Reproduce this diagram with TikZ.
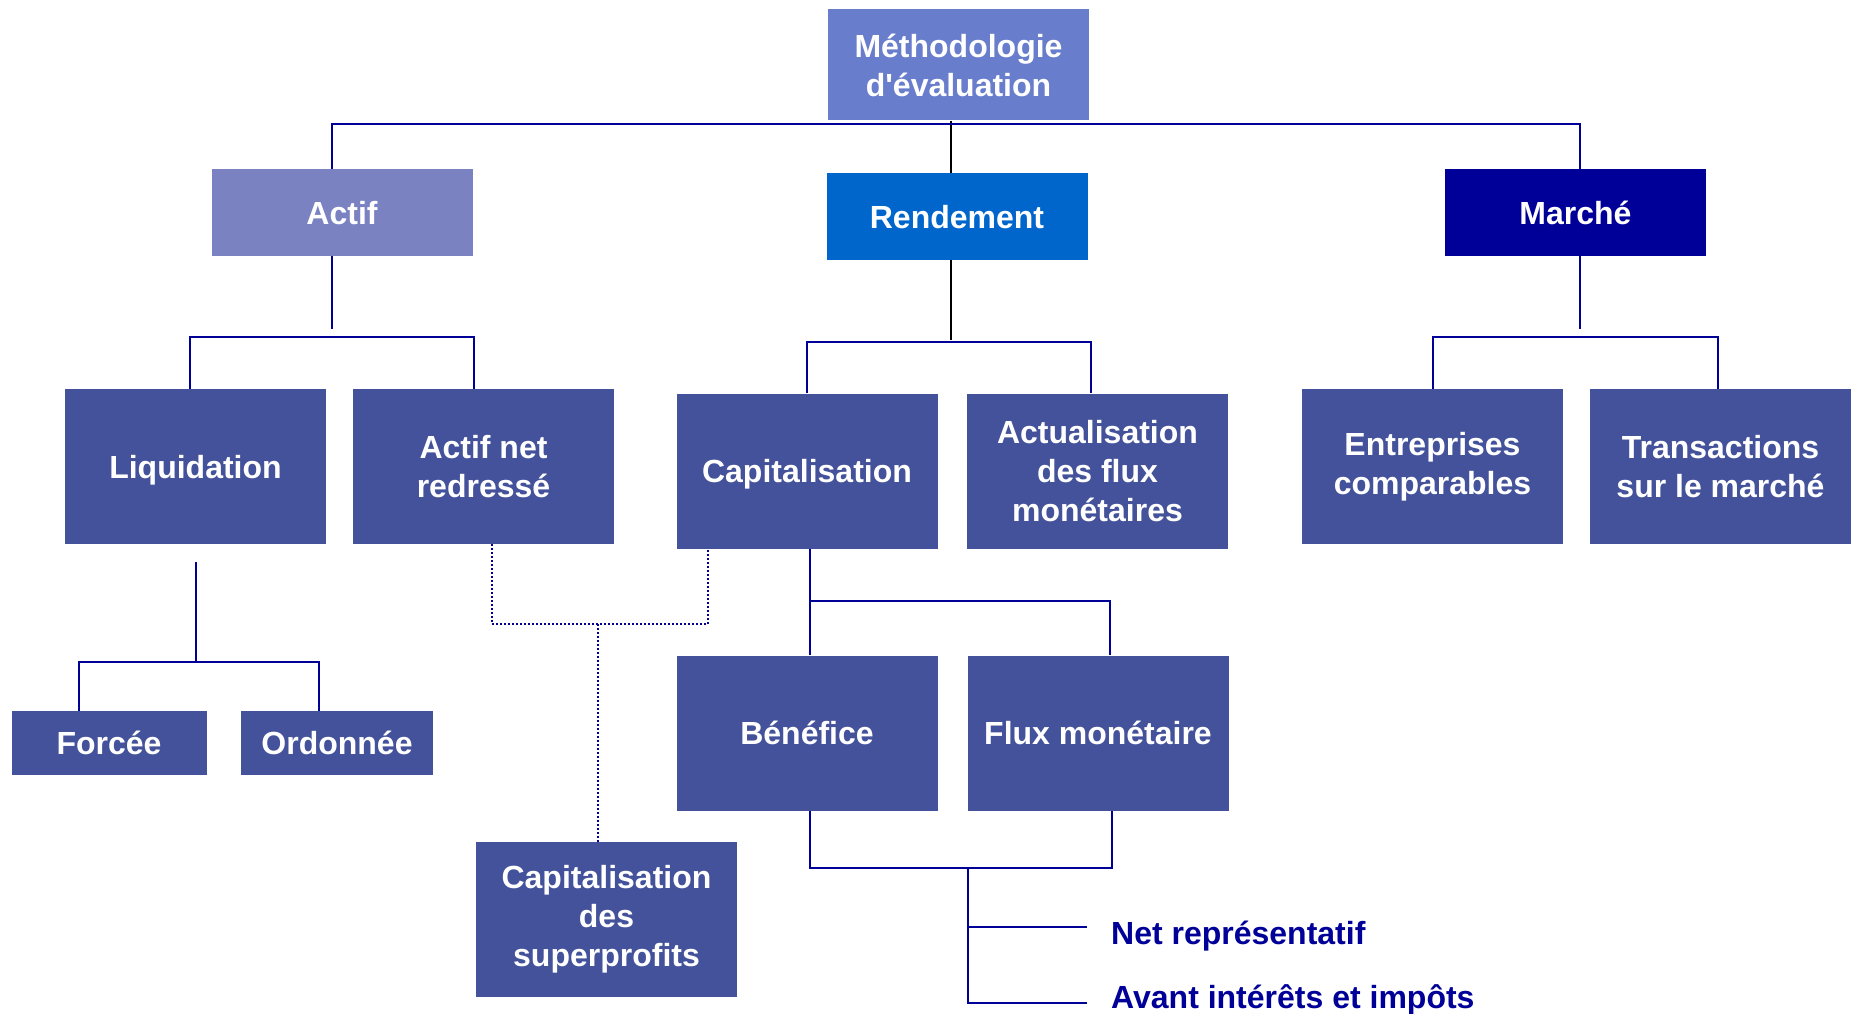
\documentclass[tikz,border=0pt]{standalone}
\usepackage{fontspec}
\setmainfont{Liberation Sans}
\usepackage{tikz}
\usetikzlibrary{positioning}
\definecolor{methblue}{HTML}{687DCC}
\definecolor{actifblue}{HTML}{7A82C2}
\definecolor{rendblue}{HTML}{0066CC}
\definecolor{lineblue}{HTML}{000099}
\definecolor{boxblue}{HTML}{43529A}

\begin{document}
\begin{tikzpicture}[
		x=1pt, y=-1pt
		,every node/.append style={rectangle, inner sep=0pt, align=center, text=white, font=\bfseries\fontsize{32}{39}\selectfont}
		,box/.style={fill=boxblue, minimum width=261pt, minimum height=155pt}
		,leaf/.style={fill=boxblue, minimum height=64pt}
		,head/.style={minimum width=261pt, minimum height=87pt}
		,one/.style={text depth=0pt}
		,link/.style={draw=lineblue, line width=2.4pt}
		,blk/.style={draw=black, line width=1.8pt}
		,dotlink/.style={draw=lineblue, line width=2pt, dash pattern=on 2pt off 2pt}
		,lbl/.style={text=lineblue, anchor=west}
	]
	\useasboundingbox (0,0) rectangle (1858,1014);

	\node [fill=methblue, minimum width=261pt, minimum height=111pt] (meth) at (958.5,65) {Méthodologie\\d\textquotesingle évaluation};
	\node [head, one, fill=actifblue] (actif) at (342,212.5) {Actif};
	\node [head, one, fill=rendblue] (rend) at (957,216.5) {Rendement};
	\node [head, one, fill=lineblue] (marche) at (1575.5,212.5) {Marché};

	\node [box, one] (liq) at (195.5,466.5) {Liquidation};
	\node [box] (anr) at (483.5,466.5) {Actif net\\redressé};
	\node [box, one] (cap) at (807,471) {Capitalisation};
	\node [box] (actu) at (1097.5,471) {Actualisation\\des flux\\monétaires};
	\node [box] (entr) at (1432.5,466.5) {Entreprises\\comparables};
	\node [box] (trans) at (1720.5,466.5) {Transactions\\sur le marché};

	\node [leaf, one, minimum width=195pt] (forcee) at (109,743) {Forcée};
	\node [leaf, one, minimum width=192pt] (ordo) at (337,743) {Ordonnée};
	\node [box] (csp) at (606.5,919.5) {Capitalisation\\des\\superprofits};
	\node [box, one] (bene) at (807,733) {Bénéfice};
	\node [box, one] (flux) at (1098,733) {Flux monétaire};
	\node [lbl] (net) at (1111,936) {Net représentatif};
	\node [lbl] (avant) at (1111,999.5) {Avant intérêts et impôts};

	\coordinate (tl) at (332,124);
	\coordinate (tr) at (1580,124);
	\coordinate (rx) at (951,340);
	\draw [blk] (meth.south -| rx) -- (rend.north -| rx);
	\draw [blk] (rend.south -| rx) -- (rx);
	\draw [link] (actif.north -| tl) -- (tl) -- (tr) -- (marche.north -| tr);

	\coordinate (aend) at (332,329);
	\coordinate (al) at (190,337);
	\coordinate (ar) at (474,337);
	\draw [link] (actif.south -| tl) -- (aend);
	\draw [link] (liq.north -| al) -- (al) -- (ar) -- (anr.north -| ar);

	\coordinate (rl) at (807,342);
	\coordinate (rr) at (1091,342);
	\draw [link] (cap.north -| rl) -- (rl) -- (rr) -- (actu.north -| rr);

	\coordinate (mend) at (1580,329);
	\coordinate (ml) at (1433,337);
	\coordinate (mr) at (1718,337);
	\draw [link] (marche.south -| tr) -- (mend);
	\draw [link] (entr.north -| ml) -- (ml) -- (mr) -- (trans.north -| mr);

	\coordinate (lqtop) at (196,562);
	\coordinate (lq) at (196,662);
	\coordinate (fl) at (79,662);
	\coordinate (fr) at (319,662);
	\draw [link] (lqtop) -- (lq);
	\draw [link] (forcee.north -| fl) -- (fl) -- (fr) -- (ordo.north -| fr);

	\coordinate (dl) at (492,624);
	\coordinate (dr) at (708,624);
	\coordinate (dm) at (598,624);
	\draw [dotlink] (anr.south -| dl) -- (dl) -- (dr) -- (cap.south -| dr);
	\draw [dotlink] (dm) -- (csp.north -| dm);

	\coordinate (cl) at (810,601);
	\coordinate (cr) at (1110,601);
	\draw [link] (cap.south -| cl) -- (bene.north -| cl);
	\draw [link] (cl) -- (cr) -- (flux.north -| cr);

	\coordinate (bl) at (810,868);
	\coordinate (br) at (1112,868);
	\coordinate (bm) at (968,868);
	\coordinate (n1) at (1087,927);
	\coordinate (n2) at (1087,1003);
	\draw [link] (bene.south -| bl) -- (bl) -- (br) -- (flux.south -| br);
	\draw [link] (bm) |- (n2);
	\draw [link] (bm |- n1) -- (n1);
\end{tikzpicture}
\end{document}
